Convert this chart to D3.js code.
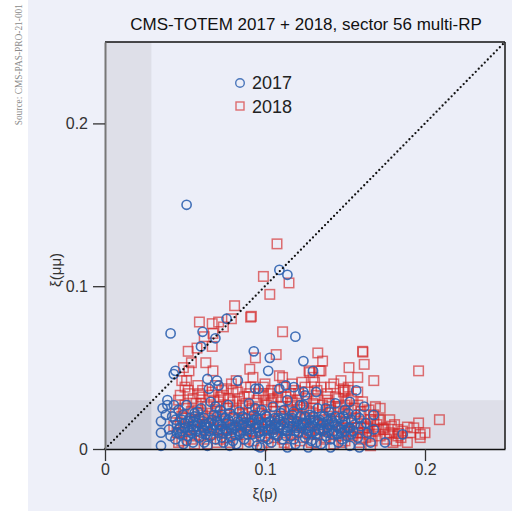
<!DOCTYPE html>
<html>
<head>
<meta charset="utf-8">
<script src="https://cdn.jsdelivr.net/npm/d3@7"></script>
<style>
  html, body { margin: 0; padding: 0; background: #eef0f9; }
  svg { display: block; }
</style>
</head>
<body>
<svg id="chart" width="512" height="511"></svg>
<script>
// ξ(p) vs ξ(μμ) for the two data-taking years, sector 56, multi-RP reconstruction
const title = "CMS-TOTEM 2017 + 2018, sector 56 multi-RP";
const seriesNames = ["2017", "2018"];
const xTicks = [0, 0.1, 0.2];
const yTicks = [0, 0.1, 0.2];
const xTickLabels = ["0", "0.1", "0.2"];
const yTickLabels = ["0", "0.1", "0.2"];
const acceptanceXiP = 0.029;   // left shaded band edge
const acceptanceXiMM = 0.030;  // bottom shaded band edge

// 2017 events: [ξ(p), ξ(μμ)]
const events2017 = [
  [0.051,0.150],[0.109,0.110],[0.114,0.107],[0.041,0.071],[0.119,0.069],[0.076,0.080],
  [0.061,0.072],[0.069,0.068],[0.060,0.063],[0.093,0.060],[0.103,0.056],[0.124,0.054],
  [0.130,0.048],[0.043,0.046],[0.044,0.048],[0.064,0.043],[0.070,0.042],[0.071,0.039],
  [0.083,0.042],[0.102,0.048],[0.065,0.037],[0.094,0.037],[0.096,0.037],[0.109,0.037],
  [0.113,0.039],[0.118,0.038],[0.124,0.035],[0.132,0.035],[0.125,0.033],[0.157,0.036],
  [0.153,0.029],[0.168,0.021],[0.186,0.009],[0.175,0.004],[0.159,0.001],
  [0.035,0.017],[0.035,0.010],[0.035,0.002],[0.036,0.025],[0.039,0.030],[0.039,0.027],
  [0.038,0.021],[0.078,0.002],[0.097,0.001],[0.114,0.001],[0.127,0.001],[0.141,0.001],
  // dense core
  [0.040,0.012],[0.042,0.020],[0.044,0.006],[0.045,0.015],[0.046,0.024],[0.047,0.009],
  [0.048,0.018],[0.049,0.003],[0.050,0.013],[0.051,0.027],[0.052,0.008],[0.053,0.019],
  [0.054,0.014],[0.055,0.004],[0.056,0.022],[0.057,0.011],[0.058,0.016],[0.059,0.007],
  [0.060,0.025],[0.061,0.013],[0.062,0.019],[0.063,0.009],[0.064,0.002],[0.065,0.016],
  [0.066,0.029],[0.067,0.012],[0.068,0.021],[0.069,0.006],[0.070,0.017],[0.071,0.010],
  [0.072,0.024],[0.073,0.014],[0.074,0.004],[0.075,0.019],[0.076,0.011],[0.077,0.027],
  [0.078,0.015],[0.079,0.008],[0.080,0.020],[0.081,0.013],[0.082,0.003],[0.083,0.017],
  [0.084,0.023],[0.085,0.010],[0.086,0.015],[0.087,0.006],[0.088,0.019],[0.089,0.012],
  [0.090,0.028],[0.091,0.016],[0.092,0.009],[0.093,0.021],[0.094,0.013],[0.095,0.002],
  [0.096,0.018],[0.097,0.011],[0.098,0.024],[0.099,0.014],[0.100,0.007],[0.101,0.020],
  [0.102,0.012],[0.103,0.017],[0.104,0.004],[0.105,0.026],[0.106,0.015],[0.107,0.009],
  [0.108,0.019],[0.109,0.013],[0.110,0.022],[0.111,0.006],[0.112,0.016],[0.113,0.011],
  [0.114,0.030],[0.115,0.018],[0.116,0.008],[0.117,0.014],[0.118,0.023],[0.119,0.003],
  [0.120,0.017],[0.121,0.010],[0.122,0.020],[0.123,0.013],[0.124,0.027],[0.125,0.007],
  [0.126,0.016],[0.127,0.011],[0.128,0.021],[0.129,0.005],[0.130,0.014],[0.131,0.018],
  [0.132,0.009],[0.133,0.025],[0.134,0.012],[0.135,0.003],[0.136,0.016],[0.137,0.020],
  [0.138,0.008],[0.139,0.013],[0.140,0.023],[0.141,0.006],[0.142,0.017],[0.143,0.011],
  [0.144,0.028],[0.145,0.014],[0.146,0.004],[0.147,0.019],[0.148,0.010],[0.149,0.015],
  [0.150,0.024],[0.151,0.008],[0.152,0.013],[0.153,0.002],[0.154,0.018],[0.155,0.011],
  [0.157,0.021],[0.158,0.007],[0.160,0.014],[0.162,0.026],[0.164,0.010],[0.166,0.004],
  [0.041,0.008],[0.043,0.027],[0.046,0.012],[0.049,0.021],[0.051,0.005],[0.053,0.011],
  [0.055,0.017],[0.058,0.023],[0.060,0.010],[0.062,0.004],[0.064,0.013],[0.067,0.018],
  [0.069,0.026],[0.071,0.015],[0.073,0.007],[0.075,0.012],[0.078,0.022],[0.080,0.005],
  [0.082,0.014],[0.084,0.009],[0.086,0.020],[0.088,0.013],[0.090,0.004],[0.092,0.017],
  [0.094,0.025],[0.096,0.010],[0.098,0.015],[0.100,0.021],[0.102,0.006],[0.104,0.013],
  [0.106,0.019],[0.108,0.008],[0.110,0.015],[0.112,0.024],[0.114,0.011],[0.116,0.017],
  [0.118,0.006],[0.120,0.013],[0.122,0.027],[0.124,0.016],[0.126,0.009],[0.128,0.014],
  [0.130,0.020],[0.132,0.004],[0.134,0.018],[0.136,0.011],[0.138,0.025],[0.140,0.015],
  [0.142,0.009],[0.144,0.020],[0.146,0.013],[0.148,0.006],[0.150,0.017],[0.152,0.022],
  [0.154,0.009],[0.156,0.015],[0.159,0.019],[0.163,0.016],[0.168,0.012],
  [0.045,0.010],[0.050,0.016],[0.054,0.010],[0.057,0.014],[0.061,0.017],[0.065,0.011],
  [0.068,0.015],[0.072,0.012],[0.076,0.016],[0.079,0.012],[0.083,0.011],[0.087,0.016],
  [0.091,0.012],[0.095,0.015],[0.099,0.011],[0.103,0.014],[0.107,0.016],[0.111,0.012],
  [0.115,0.014],[0.119,0.011],[0.123,0.016],[0.127,0.013],[0.131,0.011],[0.135,0.015],
  [0.139,0.010],[0.143,0.016],[0.147,0.012],
  [0.047,0.013],[0.052,0.017],[0.055,0.012],[0.059,0.019],[0.063,0.015],[0.066,0.008],
  [0.070,0.020],[0.074,0.010],[0.077,0.018],[0.081,0.009],[0.085,0.018],[0.089,0.009],
  [0.093,0.018],[0.097,0.008],[0.101,0.016],[0.105,0.010],[0.109,0.018],[0.113,0.008],
  [0.117,0.019],[0.121,0.014],[0.125,0.020],[0.129,0.009],[0.133,0.017],[0.137,0.012],
  [0.141,0.019],[0.145,0.009],[0.149,0.020],[0.153,0.013],[0.056,0.020],[0.062,0.011],
  [0.073,0.021],[0.084,0.015],[0.095,0.019],[0.106,0.012],[0.117,0.021],[0.128,0.018],
  [0.139,0.017],[0.150,0.011],[0.044,0.018],[0.048,0.011]
];

// 2018 events: [ξ(p), ξ(μμ)]
const events2018 = [
  [0.1075,0.126],[0.099,0.106],[0.115,0.102],[0.103,0.095],[0.081,0.088],[0.091,0.081],
  [0.0915,0.0815],[0.059,0.078],[0.067,0.077],[0.071,0.078],[0.079,0.080],[0.074,0.075],
  [0.0675,0.071],[0.062,0.069],[0.111,0.072],[0.067,0.063],[0.0575,0.062],[0.052,0.060],
  [0.054,0.053],[0.063,0.053],[0.0675,0.048],[0.049,0.050],[0.0525,0.048],[0.051,0.042],
  [0.0905,0.049],[0.0925,0.044],[0.094,0.056],[0.107,0.058],[0.133,0.059],[0.136,0.054],
  [0.161,0.060],[0.1612,0.0595],[0.162,0.052],[0.1525,0.050],[0.158,0.044],[0.1475,0.042],
  [0.168,0.042],[0.1275,0.048],[0.135,0.048],[0.109,0.045],[0.111,0.044],[0.130,0.044],
  [0.131,0.041],[0.117,0.040],[0.099,0.038],[0.149,0.037],[0.152,0.036],[0.1325,0.036],
  [0.119,0.036],[0.196,0.048],[0.128,0.047],[0.134,0.048],[0.149,0.035],[0.152,0.038],
  [0.169,0.026],[0.209,0.018],[0.196,0.016],[0.181,0.015],[0.197,0.009],[0.189,0.004],
  [0.171,0.018],[0.164,0.013],[0.166,0.002],[0.197,0.007],[0.189,0.0135],[0.183,0.012],
  [0.1835,0.0095],[0.172,0.025],[0.172,0.018],[0.174,0.012],[0.047,0.033],[0.052,0.036],
  [0.059,0.034],[0.048,0.042],[0.072,0.032],[0.082,0.042],[0.058,0.039],[0.088,0.038],
  [0.076,0.037],[0.103,0.034],[0.141,0.038],[0.125,0.038],
  // dense core
  [0.044,0.022],[0.045,0.010],[0.046,0.030],[0.047,0.016],[0.048,0.005],[0.049,0.025],
  [0.050,0.013],[0.051,0.019],[0.052,0.034],[0.053,0.008],[0.054,0.023],[0.055,0.014],
  [0.056,0.003],[0.057,0.028],[0.058,0.017],[0.059,0.011],[0.060,0.032],[0.061,0.021],
  [0.062,0.006],[0.063,0.015],[0.064,0.026],[0.065,0.019],[0.066,0.009],[0.067,0.035],
  [0.068,0.013],[0.069,0.023],[0.070,0.004],[0.071,0.029],[0.072,0.017],[0.073,0.011],
  [0.074,0.033],[0.075,0.021],[0.076,0.007],[0.077,0.015],[0.078,0.027],[0.079,0.012],
  [0.080,0.036],[0.081,0.019],[0.082,0.024],[0.083,0.003],[0.084,0.031],[0.085,0.014],
  [0.086,0.022],[0.087,0.009],[0.088,0.028],[0.089,0.016],[0.090,0.034],[0.091,0.011],
  [0.092,0.025],[0.093,0.005],[0.094,0.018],[0.095,0.030],[0.096,0.013],[0.097,0.022],
  [0.098,0.008],[0.099,0.033],[0.100,0.016],[0.101,0.027],[0.102,0.004],[0.103,0.020],
  [0.104,0.012],[0.105,0.031],[0.106,0.023],[0.107,0.009],[0.108,0.036],[0.109,0.015],
  [0.110,0.026],[0.111,0.006],[0.112,0.019],[0.113,0.032],[0.114,0.012],[0.115,0.024],
  [0.116,0.003],[0.117,0.029],[0.118,0.017],[0.119,0.021],[0.120,0.010],[0.121,0.034],
  [0.122,0.014],[0.123,0.026],[0.124,0.007],[0.125,0.019],[0.126,0.031],[0.127,0.012],
  [0.128,0.023],[0.129,0.004],[0.130,0.028],[0.131,0.016],[0.132,0.033],[0.133,0.009],
  [0.134,0.021],[0.135,0.013],[0.136,0.027],[0.137,0.006],[0.138,0.018],[0.139,0.030],
  [0.140,0.011],[0.141,0.024],[0.142,0.015],[0.143,0.003],[0.144,0.032],[0.145,0.019],
  [0.146,0.008],[0.147,0.026],[0.148,0.013],[0.149,0.022],[0.150,0.005],[0.151,0.029],
  [0.152,0.016],[0.153,0.011],[0.154,0.024],[0.155,0.008],[0.156,0.019],[0.157,0.013],
  [0.158,0.027],[0.159,0.004],[0.160,0.016],[0.161,0.010],[0.162,0.021],[0.163,0.007],
  [0.164,0.014],[0.166,0.018],[0.167,0.005],[0.169,0.011],[0.170,0.015],[0.172,0.008],
  [0.174,0.013],[0.176,0.006],[0.178,0.010],[0.180,0.004],[0.183,0.008],
  [0.043,0.014],[0.046,0.004],[0.048,0.020],[0.050,0.027],[0.052,0.012],[0.054,0.006],
  [0.056,0.018],[0.058,0.024],[0.060,0.008],[0.062,0.014],[0.064,0.003],[0.066,0.022],
  [0.068,0.030],[0.070,0.012],[0.072,0.006],[0.074,0.018],[0.076,0.025],[0.078,0.004],
  [0.080,0.013],[0.082,0.009],[0.084,0.019],[0.086,0.027],[0.088,0.006],[0.090,0.014],
  [0.092,0.020],[0.094,0.010],[0.096,0.026],[0.098,0.002],[0.100,0.012],[0.102,0.018],
  [0.104,0.029],[0.106,0.007],[0.108,0.013],[0.110,0.020],[0.112,0.004],[0.114,0.016],
  [0.116,0.026],[0.118,0.009],[0.120,0.022],[0.122,0.005],[0.124,0.015],[0.126,0.024],
  [0.128,0.010],[0.130,0.017],[0.132,0.003],[0.134,0.012],[0.136,0.020],[0.138,0.007],
  [0.140,0.028],[0.142,0.010],[0.144,0.017],[0.146,0.023],[0.148,0.004],[0.150,0.013],
  [0.152,0.009],[0.154,0.017],[0.156,0.025],[0.158,0.010],[0.160,0.006],[0.162,0.013],
  [0.165,0.009],[0.168,0.017],[0.171,0.012],[0.175,0.009],[0.179,0.014],[0.185,0.007],
  [0.191,0.010],
  [0.050,0.038],[0.055,0.031],[0.061,0.036],[0.065,0.033],[0.069,0.039],[0.073,0.036],
  [0.077,0.031],[0.079,0.040],[0.083,0.035],[0.087,0.032],[0.091,0.038],[0.096,0.034],
  [0.100,0.040],[0.104,0.036],[0.108,0.032],[0.112,0.038],[0.116,0.034],[0.120,0.030],
  [0.123,0.041],[0.127,0.035],[0.131,0.031],[0.135,0.038],[0.139,0.034],[0.143,0.040],
  [0.146,0.031],[0.150,0.036],[0.154,0.031],[0.158,0.035],[0.161,0.029],[0.165,0.024],
  [0.168,0.021],[0.060,0.028],[0.070,0.026],[0.080,0.029],[0.090,0.024],[0.100,0.030],
  [0.110,0.029],[0.120,0.027],[0.130,0.025],[0.140,0.026],[0.150,0.027],[0.160,0.023],
  [0.178,0.018],[0.182,0.005],[0.186,0.011],[0.193,0.013],[0.200,0.010]
];

const colors = { "2017": "#2f62b0", "2018": "#d42626" };

const svg = d3.select("#chart");
const W = 512, H = 511;
const m = { left: 105, top: 42, right: 7, bottom: 62 };
const pw = W - m.left - m.right, ph = H - m.top - m.bottom;

// white strip holding the source note
svg.append("rect").attr("x", 0).attr("y", 0).attr("width", 28).attr("height", H).attr("fill", "#ffffff");
svg.append("text")
  .attr("transform", "translate(22,4) rotate(-90)")
  .attr("text-anchor", "end")
  .attr("font-family", "Liberation Serif, serif")
  .attr("font-size", 9.4)
  .attr("fill", "#8a8a8a")
  .text("Source: CMS-PAS-PRO-21-001");

const x = d3.scaleLinear().domain([0, 0.25]).range([0, pw]);
const y = d3.scaleLinear().domain([0, 0.25]).range([ph, 0]);

const g = svg.append("g").attr("transform", `translate(${m.left},${m.top})`);

// plot background and acceptance bands
g.append("rect").attr("width", pw).attr("height", ph).attr("fill", "#eceef8");
g.append("rect").attr("x", 0).attr("y", 0).attr("width", x(acceptanceXiP)).attr("height", ph).attr("fill", "#dedfe8");
g.append("rect").attr("x", 0).attr("y", y(acceptanceXiMM)).attr("width", pw).attr("height", ph - y(acceptanceXiMM)).attr("fill", "#dedfe9");
g.append("rect").attr("x", 0).attr("y", y(acceptanceXiMM)).attr("width", x(acceptanceXiP)).attr("height", ph - y(acceptanceXiMM)).attr("fill", "#cbcdd9");

// markers: 2018 squares below 2017 circles
const sq = 9.5;
g.append("g").selectAll("rect").data(events2018).join("rect")
  .attr("x", d => x(d[0]) - sq / 2).attr("y", d => y(d[1]) - sq / 2)
  .attr("width", sq).attr("height", sq)
  .attr("fill", "none").attr("stroke", colors["2018"])
  .attr("stroke-width", 1.5).attr("stroke-opacity", 0.65);

g.append("g").selectAll("circle").data(events2017).join("circle")
  .attr("cx", d => x(d[0])).attr("cy", d => y(d[1])).attr("r", 4.6)
  .attr("fill", "none").attr("stroke", colors["2017"])
  .attr("stroke-width", 1.6).attr("stroke-opacity", 0.9);

// ξ(μμ) = ξ(p) reference line
g.append("line")
  .attr("x1", x(0)).attr("y1", y(0)).attr("x2", x(0.25)).attr("y2", y(0.25))
  .attr("stroke", "#111").attr("stroke-width", 2.3)
  .attr("stroke-linecap", "round").attr("stroke-dasharray", "0 4.3");

// frame
g.append("line").attr("x1", 0).attr("x2", pw).attr("y1", 0).attr("y2", 0).attr("stroke", "#111").attr("stroke-width", 1.6);
g.append("line").attr("x1", pw).attr("x2", pw).attr("y1", 0).attr("y2", ph).attr("stroke", "#222").attr("stroke-width", 1.6);

// axes
const xAxis = d3.axisBottom(x).tickValues(xTicks).tickFormat((d, i) => xTickLabels[i]).tickSize(12).tickSizeOuter(0).tickPadding(3);
const yAxis = d3.axisLeft(y).tickValues(yTicks).tickFormat((d, i) => yTickLabels[i]).tickSize(12).tickSizeOuter(0).tickPadding(5);

const gx = g.append("g").attr("transform", `translate(0,${ph})`).call(xAxis);
gx.select(".domain").attr("stroke", "#111").attr("stroke-width", 1.6);
gx.selectAll(".tick line").attr("stroke", "#333").attr("stroke-width", 1.3);
gx.selectAll("text").attr("font-family", "Liberation Sans, Arial, sans-serif").attr("font-size", 16).attr("fill", "#333");

const gy = g.append("g").call(yAxis);
gy.select(".domain").attr("stroke", "#777").attr("stroke-width", 2);
gy.selectAll(".tick line").attr("stroke", "#333").attr("stroke-width", 1.3);
gy.selectAll("text").attr("font-family", "Liberation Sans, Arial, sans-serif").attr("font-size", 16).attr("fill", "#333");

// axis titles
svg.append("text").attr("x", m.left + x(0.1)).attr("y", 499)
  .attr("text-anchor", "middle").attr("font-family", "Liberation Sans, Arial, sans-serif")
  .attr("font-size", 15).attr("fill", "#333").text("ξ(p)");
svg.append("text").attr("transform", `translate(61,${m.top + y(0.11)}) rotate(-90)`)
  .attr("text-anchor", "middle").attr("font-family", "Liberation Sans, Arial, sans-serif")
  .attr("font-size", 15).attr("fill", "#333").text("ξ(μμ)");

// title
svg.append("text").attr("x", 306).attr("y", 30)
  .attr("text-anchor", "middle").attr("font-family", "Liberation Sans, Arial, sans-serif")
  .attr("font-size", 17).attr("fill", "#111").text(title);

// legend
const lg = svg.append("g").attr("font-family", "Liberation Sans, Arial, sans-serif").attr("font-size", 18).attr("fill", "#222");
lg.append("circle").attr("cx", 240).attr("cy", 83).attr("r", 4.3)
  .attr("fill", "none").attr("stroke", colors["2017"]).attr("stroke-width", 1.4).attr("stroke-opacity", 0.85);
lg.append("text").attr("x", 252).attr("y", 89).text(seriesNames[0]);
lg.append("rect").attr("x", 236).attr("y", 102).attr("width", 8).attr("height", 8)
  .attr("fill", "none").attr("stroke", colors["2018"]).attr("stroke-width", 1.4).attr("stroke-opacity", 0.65);
lg.append("text").attr("x", 252).attr("y", 113).text(seriesNames[1]);
</script>
</body>
</html>
